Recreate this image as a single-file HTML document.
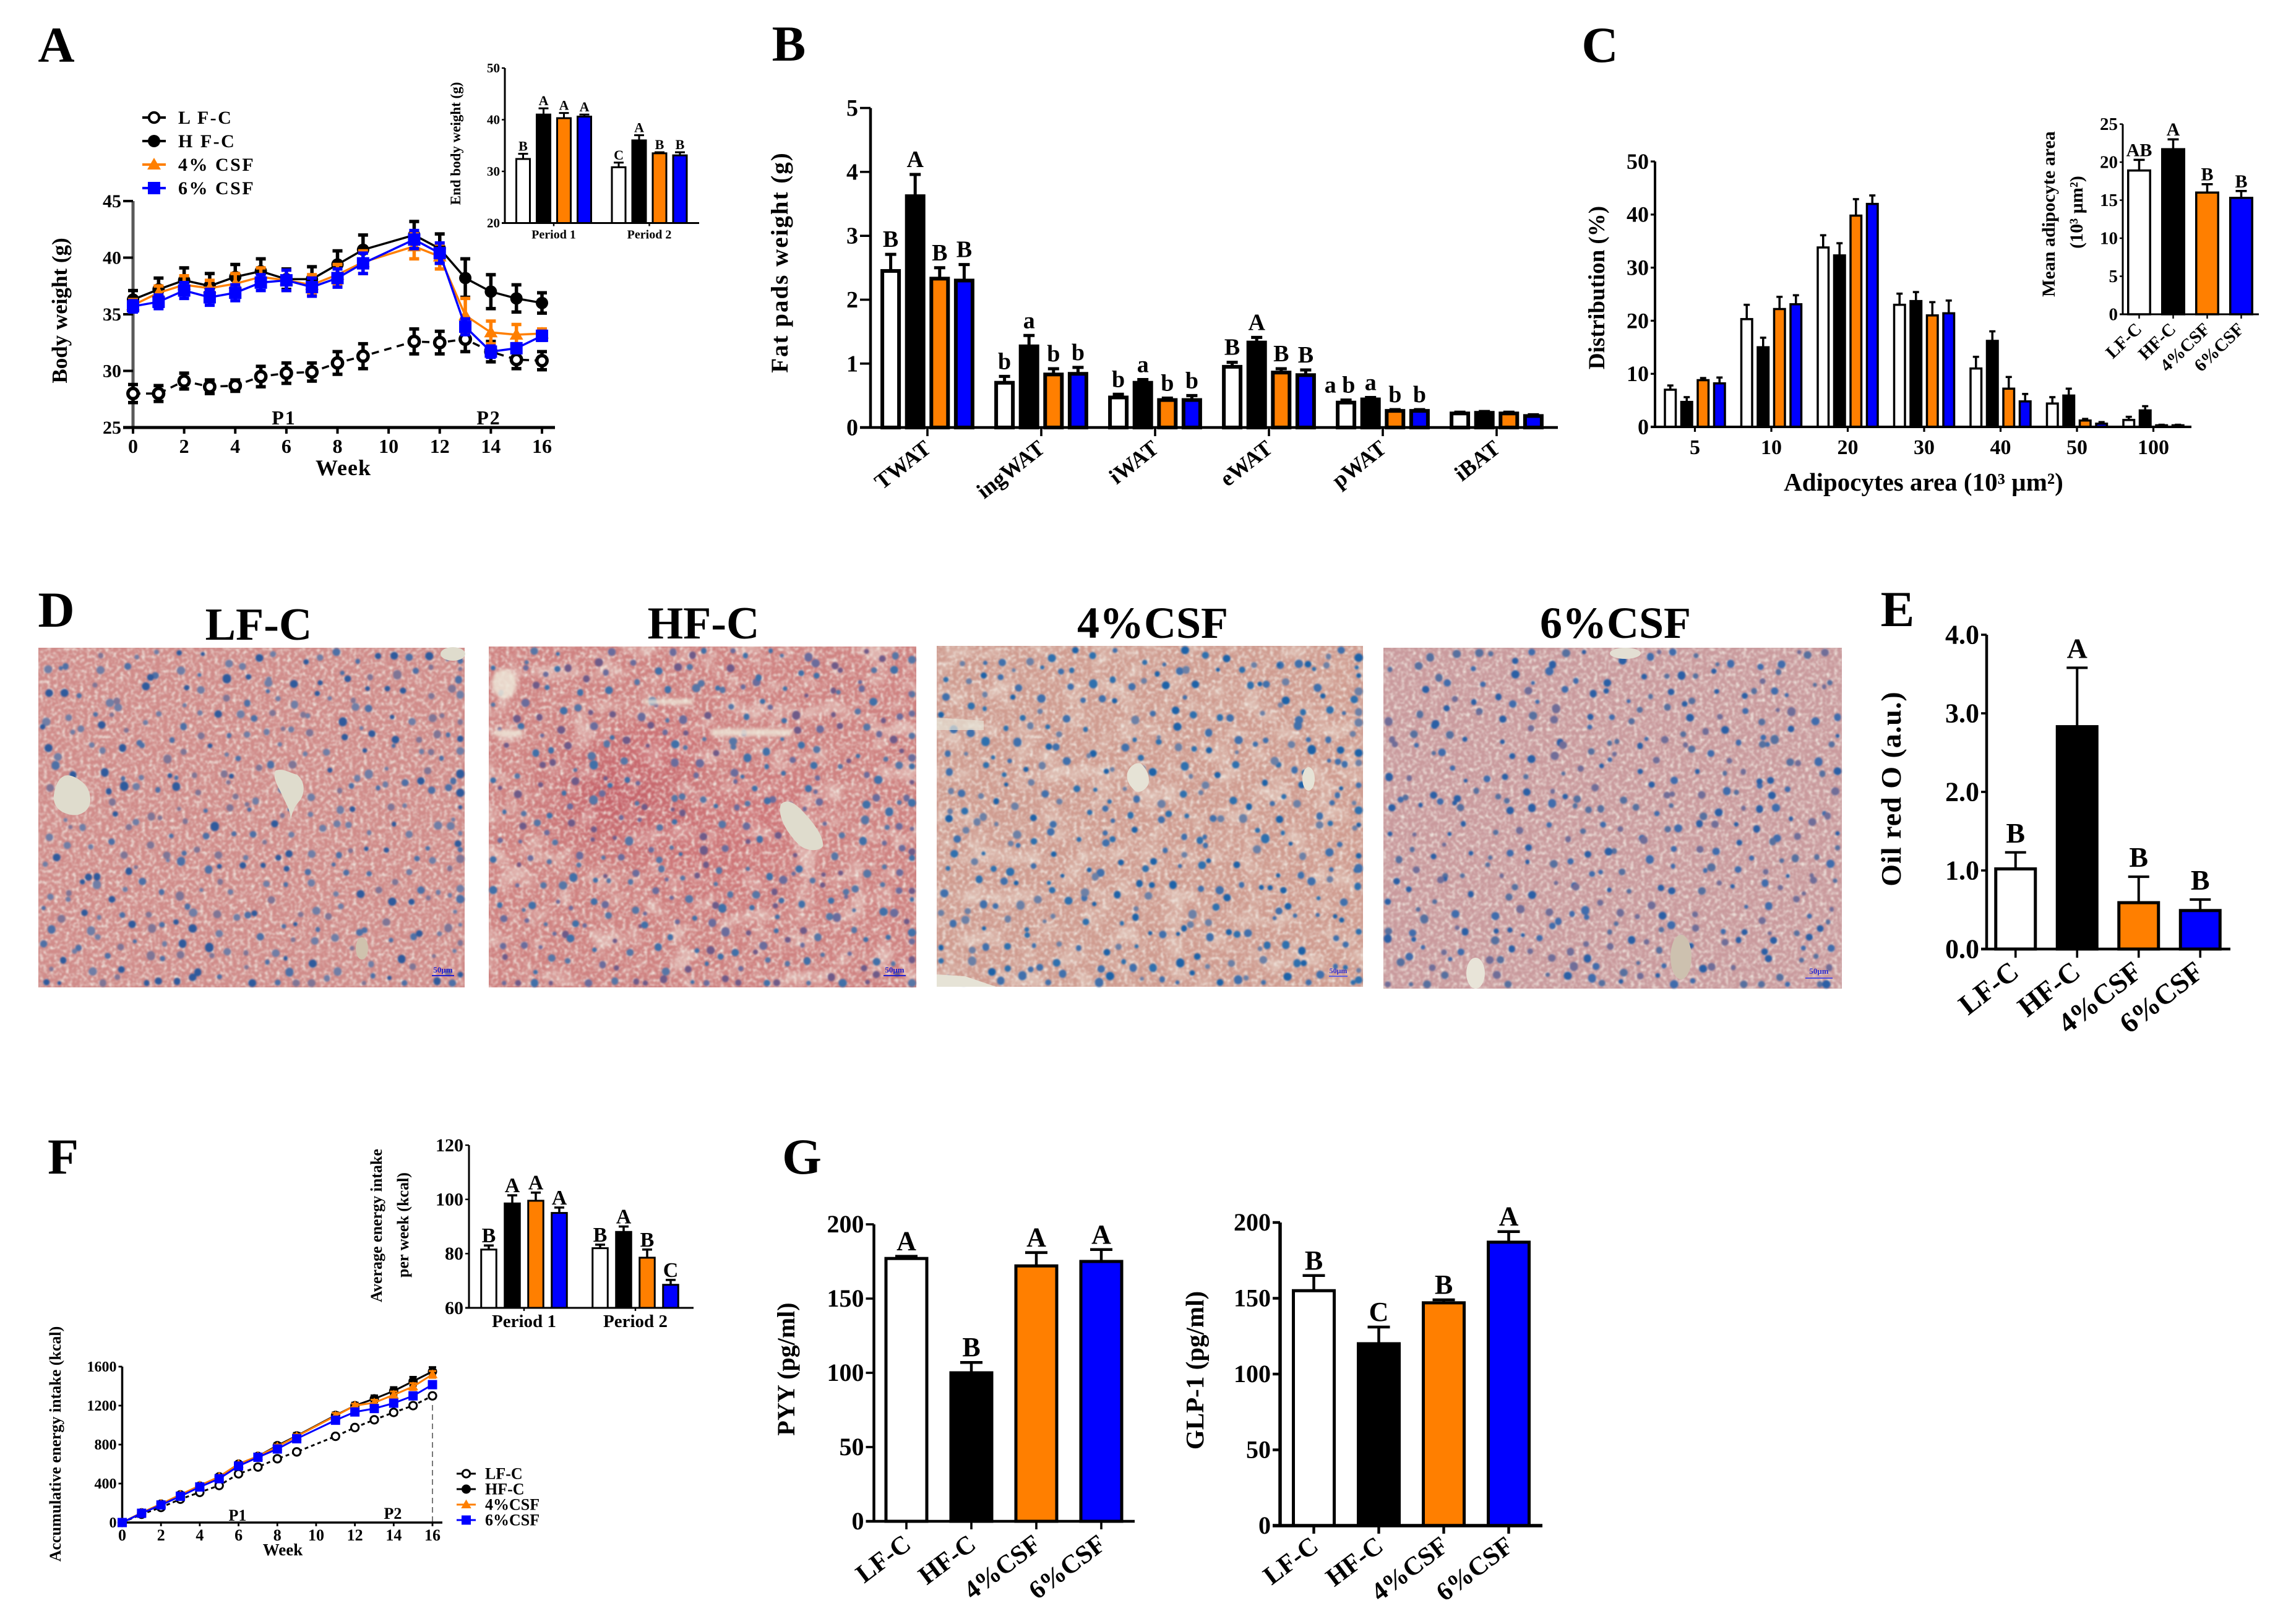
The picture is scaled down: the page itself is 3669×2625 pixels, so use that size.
<!DOCTYPE html>
<html lang="en">
<head>
<meta charset="utf-8">
<title>Body weight, fat pads, adipocytes, liver histology, energy intake and gut hormones</title>
<style>
html,body{margin:0;padding:0;background:#fff}
svg{display:block}
text{font-family:"Liberation Serif",serif;font-weight:700;fill:#000}
</style>
</head>
<body>
<svg id="figure" xmlns="http://www.w3.org/2000/svg" width="3669" height="2625" viewBox="0 0 3669 2625">
<defs>
<filter id="grain" x="0" y="0" width="100%" height="100%">
<feTurbulence type="fractalNoise" baseFrequency="0.17" numOctaves="2" seed="4"/>
<feColorMatrix values="0 0 0 0 0.88  0 0 0 0 0.82  0 0 0 0 0.76  2.4 0 0 0 -1.05"/>
<feGaussianBlur stdDeviation="1.1"/>
</filter>
<filter id="mottle" x="0" y="0" width="100%" height="100%">
<feTurbulence type="fractalNoise" baseFrequency="0.025 0.03" numOctaves="2" seed="11"/>
<feColorMatrix values="0 0 0 0 0.9  0 0 0 0 0.86  0 0 0 0 0.78  3.4 0 0 0 -1.7"/>
</filter>
<filter id="soft" x="-5%" y="-5%" width="110%" height="110%"><feGaussianBlur stdDeviation="1.2"/></filter>
<filter id="softer" x="-30%" y="-30%" width="160%" height="160%"><feGaussianBlur stdDeviation="3"/></filter>
<radialGradient id="redpatch"><stop offset="0" stop-color="#b8384a" stop-opacity=".5"/><stop offset="1" stop-color="#b8384a" stop-opacity="0"/></radialGradient>
<radialGradient id="softpatch"><stop offset="0" stop-color="#c9505c" stop-opacity=".3"/><stop offset="1" stop-color="#c9505c" stop-opacity="0"/></radialGradient>
</defs>
<rect width="3669" height="2625" fill="#fff"/>

<g id="panel-a">
<text x="91" y="100" font-size="82" text-anchor="middle">A</text>
<text transform="translate(108,502) rotate(-90)" font-size="35" text-anchor="middle">Body weight (g)</text>
<text x="555" y="768" font-size="36" text-anchor="middle" letter-spacing="1">Week</text>
<text x="459" y="686" font-size="32" text-anchor="middle" letter-spacing="2">P1</text>
<text x="790" y="686" font-size="32" text-anchor="middle" letter-spacing="2">P2</text>
<text transform="translate(744,232) rotate(-90)" font-size="23" text-anchor="middle">End body weight (g)</text>
</g>

<g id="panel-b">
<text x="1275" y="98" font-size="82" text-anchor="middle">B</text>
<text transform="translate(1273,424) rotate(-90)" font-size="39" letter-spacing="2" text-anchor="middle">Fat pads weight (g)</text>
</g>

<g id="panel-c">
<text x="2586" y="100" font-size="82" text-anchor="middle">C</text>
<text transform="translate(2593,465) rotate(-90)" font-size="37" text-anchor="middle">Distribution (%)</text>
<text x="3109" y="793" font-size="41" text-anchor="middle">Adipocytes area (10³ µm²)</text>
<text transform="translate(3321,346) rotate(-90)" font-size="30" text-anchor="middle">Mean adipocyte area</text>
<text transform="translate(3366,343) rotate(-90)" font-size="30" text-anchor="middle">(10³ µm²)</text>
</g>

<g id="panel-d">
<text x="91" y="1013" font-size="82" text-anchor="middle">D</text>
<text x="418" y="1034" font-size="74" text-anchor="middle">LF-C</text>
<text x="1137" y="1032" font-size="74" text-anchor="middle">HF-C</text>
<text x="1863" y="1031" font-size="72" text-anchor="middle">4%CSF</text>
<text x="2611" y="1031" font-size="72" text-anchor="middle">6%CSF</text>

<g>
<rect x="62" y="1047" width="689" height="549" fill="#d08c8a"/>
<rect x="62" y="1047" width="689" height="549" filter="url(#grain)"/>
<g id="nuclei-1" filter="url(#soft)"></g>
<path d="M87 1285C92 1255 105 1250 118 1255C135 1262 147 1275 146 1295C145 1310 130 1320 115 1317C97 1314 85 1303 87 1285Z" fill="#dfdccd"/>
<path d="M445 1246C455 1240 470 1250 480 1252C492 1262 494 1278 486 1292C480 1300 474 1305 470 1325C468 1305 462 1300 456 1285C450 1272 440 1258 445 1246Z" fill="#dfdccd"/>
<ellipse cx="732" cy="1057" rx="20" ry="11" fill="#dfdccd"/>
<ellipse cx="585" cy="1533" rx="10" ry="18" fill="#cfc2ad"/>
<rect x="698" y="1576" width="36" height="2" fill="#2020d0"/>
<text x="716" y="1572" font-size="13" text-anchor="middle" style="fill:#2020d0">50μm</text>
</g>

<g>
<rect x="790" y="1045" width="691" height="551" fill="#cf8382"/>
<rect x="790" y="1045" width="691" height="551" filter="url(#mottle)" opacity=".45"/>
<ellipse cx="1005" cy="1285" rx="170" ry="130" fill="url(#redpatch)"/>
<ellipse cx="1150" cy="1385" rx="170" ry="120" fill="url(#softpatch)"/>
<ellipse cx="1240" cy="1300" rx="130" ry="90" fill="url(#softpatch)"/>
<ellipse cx="1080" cy="1200" rx="120" ry="70" fill="url(#softpatch)"/>
<rect x="790" y="1045" width="691" height="551" filter="url(#grain)"/>
<g id="nuclei-2" filter="url(#soft)"></g>
<path d="M1262 1300C1272 1290 1285 1298 1298 1312C1315 1330 1332 1352 1330 1368C1322 1378 1300 1376 1288 1362C1272 1345 1256 1320 1262 1300Z" fill="#dfdccd"/>
<g filter="url(#softer)" fill="#eee6d8" opacity=".85">
<ellipse cx="815" cy="1105" rx="20" ry="24"/>
<rect x="1150" y="1178" width="130" height="12"/>
<rect x="1040" y="1130" width="80" height="9"/>
<rect x="800" y="1180" width="45" height="10"/>
</g>
<rect x="1428" y="1576" width="36" height="2" fill="#2020d0"/>
<text x="1446" y="1572" font-size="13" text-anchor="middle" style="fill:#2020d0">50μm</text>
</g>

<g>
<rect x="1514" y="1044" width="689" height="551" fill="#cf9c90"/>
<rect x="1514" y="1044" width="689" height="551" filter="url(#mottle)" opacity=".4"/>
<rect x="1514" y="1044" width="689" height="551" filter="url(#grain)"/>
<g id="nuclei-3" filter="url(#soft)"></g>
<path d="M1822 1250C1825 1238 1838 1230 1845 1235C1855 1245 1860 1258 1855 1270C1848 1280 1840 1282 1834 1278C1826 1270 1820 1262 1822 1250Z" fill="#e6e3d6"/>
<ellipse cx="2115" cy="1259" rx="10" ry="19" fill="#e6e3d6"/>
<path d="M1514 1575L1560 1578L1610 1595L1514 1595Z" fill="#e6e3d6"/>
<path d="M1514 1160L1590 1165L1590 1180L1514 1180Z" fill="#e6e3d6" opacity=".7"/>
<rect x="2148" y="1577" width="30" height="2" fill="#6060e0"/>
<text x="2163" y="1573" font-size="12" text-anchor="middle" style="fill:#3030d0">50μm</text>
</g>

<g>
<rect x="2236" y="1047" width="741" height="551" fill="#c99a9d"/>
<rect x="2236" y="1047" width="741" height="551" filter="url(#grain)"/>
<g id="nuclei-4" filter="url(#soft)"></g>
<ellipse cx="2627" cy="1056" rx="25" ry="9" fill="#e3dfd3"/>
<ellipse cx="2717" cy="1547" rx="17" ry="36" fill="#cdc1af"/>
<ellipse cx="2385" cy="1573" rx="15" ry="25" fill="#e8e4d8"/>
<rect x="2918" y="1580" width="44" height="2" fill="#5050e0"/>
<text x="2940" y="1574" font-size="13" text-anchor="middle" style="fill:#3030d0">50μm</text>
</g>
</g>

<g id="panel-e">
<text x="3067" y="1012" font-size="82" text-anchor="middle">E</text>
<text transform="translate(3072,1275) rotate(-90)" font-size="46" letter-spacing="1" text-anchor="middle">Oil red O (a.u.)</text>
</g>

<g id="panel-f">
<text x="102" y="1897" font-size="82" text-anchor="middle">F</text>
<text transform="translate(617,1981) rotate(-90)" font-size="26" text-anchor="middle">Average energy intake</text>
<text transform="translate(660,1980) rotate(-90)" font-size="26" text-anchor="middle">per week (kcal)</text>
<text transform="translate(98,2334) rotate(-90)" font-size="26" text-anchor="middle">Accumulative energy intake (kcal)</text>
<text x="457" y="2514" font-size="27" text-anchor="middle">Week</text>
<text x="384" y="2458" font-size="26" text-anchor="middle">P1</text>
<text x="635" y="2455" font-size="26" text-anchor="middle">P2</text>
<line x1="699" y1="2271" x2="699" y2="2461" stroke="#777" stroke-width="2" stroke-dasharray="9 6"/>
</g>

<g id="panel-g">
<text x="1296" y="1897" font-size="82" text-anchor="middle">G</text>
<text transform="translate(1284,2213) rotate(-90)" font-size="40" text-anchor="middle">PYY (pg/ml)</text>
<text transform="translate(1945,2215) rotate(-90)" font-size="41" text-anchor="middle">GLP-1 (pg/ml)</text>
</g>

<script>
// ---------- categories shared by all panels ----------
const groupKeys = ['lf-c', 'hf-c', 'csf4', 'csf6'];
const treatmentLabels = ['LF-C', 'HF-C', '4%CSF', '6%CSF'];
const treatmentLegendSpaced = ['L F-C', 'H F-C', '4% CSF', '6% CSF'];

// ---------- panel A, body weight over time ----------
const bodyWeeks = [0, 1, 2, 3, 4, 5, 6, 7, 8, 9, 11, 12, 13, 14, 15, 16];
const bodyLf = [28.0, 28.0, 29.1, 28.6, 28.7, 29.5, 29.8, 29.9, 30.7, 31.3, 32.6, 32.5, 32.8, 31.7, 31.0, 30.9];
const bodyLfErr = [0.8, 0.7, 0.7, 0.6, 0.5, 0.9, 0.9, 0.8, 1.0, 1.1, 1.1, 1.0, 1.1, 0.9, 0.8, 0.8];
const bodyHf = [36.3, 37.2, 38.0, 37.5, 38.3, 38.8, 38.1, 38.1, 39.4, 40.7, 42.0, 40.8, 38.2, 37.0, 36.4, 36.0];
const bodyHfErr = [0.8, 1.0, 1.1, 1.1, 1.1, 1.1, 0.9, 1.1, 1.2, 1.3, 1.2, 1.3, 1.7, 1.5, 1.2, 0.9];
const bodyCsf4 = [35.8, 36.9, 37.6, 37.3, 37.7, 38.3, 38.0, 37.6, 38.5, 39.6, 41.0, 40.1, 34.9, 33.4, 33.2, 33.3];
const bodyCsf4Err = [0.5, 0.6, 0.8, 0.7, 0.9, 0.8, 0.9, 0.9, 0.9, 1.0, 1.1, 1.1, 1.5, 1.0, 0.9, 0.4];
const bodyCsf6 = [35.7, 36.1, 37.1, 36.5, 36.9, 37.8, 38.0, 37.4, 38.2, 39.5, 41.6, 40.4, 33.9, 31.7, 32.0, 33.1];
const bodyCsf6Err = [0.5, 0.6, 0.7, 0.7, 0.7, 0.7, 0.9, 0.8, 0.8, 0.9, 0.8, 0.9, 0.7, 0.5, 0.4, 0.4];
const bodyYTicks = [25, 30, 35, 40, 45];
const weekTicks = [0, 2, 4, 6, 8, 10, 12, 14, 16];

// panel A inset, end body weight
const endPeriods = ['Period 1', 'Period 2'];
const endValues = [[32.4, 41, 40.3, 40.6], [30.8, 36, 33.5, 33.1]];
const endErrors = [[1, 1.2, 1, 0.4], [0.9, 1, 0.2, 0.6]];
const endLetters = [['B', 'A', 'A', 'A'], ['C', 'A', 'B', 'B']];
const endTicks = [20, 30, 40, 50];

// ---------- panel B, fat pads ----------
const padNames = ['TWAT', 'ingWAT', 'iWAT', 'eWAT', 'pWAT', 'iBAT'];
const padValues = [[2.45, 3.62, 2.33, 2.3], [0.7, 1.27, 0.83, 0.84], [0.47, 0.7, 0.43, 0.43], [0.95, 1.33, 0.86, 0.82], [0.39, 0.44, 0.26, 0.26], [0.22, 0.23, 0.22, 0.18]];
const padErrors = [[0.26, 0.34, 0.17, 0.25], [0.1, 0.17, 0.09, 0.1], [0.05, 0.05, 0.03, 0.07], [0.07, 0.08, 0.06, 0.08], [0.04, 0.03, 0.02, 0.02], [0.02, 0.02, 0.02, 0.02]];
const padLetters = [['B', 'A', 'B', 'B'], ['b', 'a', 'b', 'b'], ['b', 'a', 'b', 'b'], ['B', 'A', 'B', 'B'], ['a b', 'a', 'b', 'b'], ['', '', '', '']];
const padTicks = [0, 1, 2, 3, 4, 5];

// ---------- panel C, adipocyte distribution ----------
const areaNames = ['5', '10', '20', '30', '40', '50', '100'];
const areaValues = [[7, 4.7, 8.8, 8.2], [20.3, 15, 22.2, 23.1], [33.8, 32.3, 39.8, 42], [23, 23.7, 21, 21.4], [11, 16.2, 7.2, 4.8], [4.4, 5.9, 1.2, 0.6], [1.3, 3.1, 0.3, 0.3]];
const areaErrors = [[0.8, 0.9, 0.4, 1.1], [2.7, 1.8, 2.3, 1.7], [2.3, 2.3, 3.1, 1.6], [2.1, 1.7, 2.5, 2.4], [2.2, 1.8, 2.2, 1.4], [1.2, 1.3, 0.3, 0.3], [0.6, 0.8, 0.1, 0.1]];
const areaLetters = [['', '', '', ''], ['', '', '', ''], ['', '', '', ''], ['', '', '', ''], ['', '', '', ''], ['', '', '', ''], ['', '', '', '']];
const areaTicks = [0, 10, 20, 30, 40, 50];

const meanValues = [[18.9, 21.7, 16, 15.3]];
const meanErrors = [[1.4, 1.3, 1.1, 0.9]];
const meanLetters = [['AB', 'A', 'B', 'B']];
const meanTicks = [0, 5, 10, 15, 20, 25];

// ---------- panel E, oil red O ----------
const oilValues = [[1.02, 2.83, 0.59, 0.49]];
const oilErrors = [[0.21, 0.75, 0.33, 0.14]];
const oilLetters = [['B', 'A', 'B', 'B']];
const oilTicks = ['0.0', '1.0', '2.0', '3.0', '4.0'];

// ---------- panel F, energy intake ----------
const intakePeriods = ['Period 1', 'Period 2'];
const intakeValues = [[81.5, 98.5, 99.5, 95], [82, 88, 78.5, 68.5]];
const intakeErrors = [[1.5, 3, 3, 2], [1.3, 2, 3, 1.8]];
const intakeLetters = [['B', 'A', 'A', 'A'], ['B', 'A', 'B', 'C']];
const intakeTicks = [60, 80, 100, 120];

const accLf = [0, 85, 155, 240, 310, 380, 500, 570, 655, 725, 885, 975, 1055, 1130, 1200, 1300];
const accLfErr = [0, 8, 10, 12, 12, 12, 15, 15, 15, 15, 15, 20, 20, 25, 25, 25];
const accHf = [0, 100, 190, 285, 375, 470, 600, 680, 790, 890, 1100, 1200, 1270, 1350, 1450, 1550];
const accHfErr = [0, 10, 15, 15, 15, 20, 20, 20, 25, 30, 30, 30, 35, 40, 45, 45];
const accCsf4 = [0, 100, 190, 285, 380, 470, 600, 680, 780, 885, 1095, 1200, 1230, 1310, 1395, 1520];
const accCsf4Err = [0, 8, 10, 12, 12, 15, 15, 15, 20, 20, 30, 20, 30, 35, 35, 35];
const accCsf6 = [0, 95, 180, 270, 365, 450, 580, 670, 755, 860, 1050, 1135, 1170, 1225, 1300, 1415];
const accCsf6Err = [0, 8, 10, 12, 12, 12, 15, 15, 15, 15, 15, 15, 15, 15, 15, 15];
const accTicks = [0, 400, 800, 1200, 1600];

// ---------- panel G, gut hormones ----------
const pyyValues = [[177, 100, 172, 175]];
const pyyErrors = [[1.5, 7, 9, 8]];
const pyyLetters = [['A', 'B', 'A', 'A']];
const glpValues = [[155, 120, 147, 187]];
const glpErrors = [[10, 11, 2, 7]];
const glpLetters = [['B', 'C', 'B', 'A']];
const hormoneTicks = [0, 50, 100, 150, 200];

// ---------- drawing styles ----------
const barFills = ['#ffffff', '#000000', '#ff7f00', '#0000ff'];
const seriesStroke = ['#000000', '#000000', '#ff7f00', '#0000ff'];
const seriesMarker = ['open', 'disc', 'triangle', 'square'];

const NS = 'http://www.w3.org/2000/svg';
function mk(tag, attrs, parent) {
  const n = document.createElementNS(NS, tag);
  for (const k in attrs) n.setAttribute(k, attrs[k]);
  parent.appendChild(n);
  return n;
}
function txt(parent, x, y, s, size, anchor, rot) {
  const t = mk('text', {
    transform: 'translate(' + x + ',' + y + ')' + (rot ? ' rotate(' + rot + ')' : ''),
    'font-size': size,
    'text-anchor': anchor || 'middle'
  }, parent);
  t.textContent = s;
  return t;
}
function yOf(L, v) {
  return L.y0 - (v - L.vMin) / (L.vMax - L.vMin) * (L.y0 - L.yTop);
}
function xOf(L, w) {
  return L.x - 0 + (w - 0) / 16 * (L.x16 - L.x);
}

function drawYAxis(panel, prefix, L, ticks) {
  const axis = mk('line', { x1: L.x, y1: L.yTop, x2: L.x, y2: L.y0, stroke: L.yAxisColor || '#000', 'stroke-width': L.axisW }, panel);
  
  
  const base = mk('line', { x1: L.x - L.tickLen, y1: L.y0, x2: L.xEnd, y2: L.y0, stroke: '#000', 'stroke-width': L.axisW }, panel);
  
  
  ticks.forEach(function (t) {
    const y = yOf(L, Number(t));
    const tm = mk('line', { x1: L.x - L.tickLen, y1: y, x2: L.x, y2: y, stroke: '#000', 'stroke-width': L.axisW * 0.8 }, panel);
    
    
    const lb = txt(panel, L.x - L.tickLen - 3, y + L.tickFs * 0.33, String(t), L.tickFs, 'end');
    
    
  });
}

function drawBarChart(panel, prefix, L, cats, values, errors, letters, ticks) {
  values.forEach(function (row, g) {
    const gc = L.first + g * (L.groupStep || 0);
    row.forEach(function (v, b) {
      const cx = gc + (b - 1.5) * L.barStep;
      const top = yOf(L, v);
      const errTop = yOf(L, v + errors[g][b]);
      const er = mk('line', { x1: cx, y1: top, x2: cx, y2: errTop, stroke: '#000', 'stroke-width': L.errW }, panel);
      
      
      const cp = mk('line', { x1: cx - L.capW, y1: errTop, x2: cx + L.capW, y2: errTop, stroke: '#000', 'stroke-width': L.errW }, panel);
      
      
      const bar = mk('rect', {
        x: cx - L.barW / 2 + L.barSw / 2, y: top,
        width: L.barW - L.barSw, height: Math.max(0, L.y0 - top),
        fill: barFills[b], stroke: '#000', 'stroke-width': L.barSw
      }, panel);
      
      
      if (letters[g][b]) {
        const ofs = letters[g][b].length > 2 ? -10 : 0;
        const lt = txt(panel, cx + ofs, errTop - L.letterGap, letters[g][b], L.letterFs, 'middle');
        
        
      }
      if (L.perBar) {
        const tk = mk('line', { x1: cx, y1: L.y0, x2: cx, y2: L.y0 + L.xTick, stroke: '#000', 'stroke-width': L.axisW * 0.8 }, panel);
        
        
        const cl = txt(panel, cx + L.catDx, L.y0 + L.catDy, cats[b], L.catFs, 'end', L.catRot);
        
        
      }
    });
    if (!L.perBar) {
      const tk = mk('line', { x1: gc, y1: L.y0, x2: gc, y2: L.y0 + L.xTick, stroke: '#000', 'stroke-width': L.axisW * 0.8 }, panel);
      
      
      const cl = L.catRot
        ? txt(panel, gc + L.catDx, L.y0 + L.catDy, cats[g], L.catFs, 'end', L.catRot)
        : txt(panel, gc + L.catDx, L.y0 + L.catDy, cats[g], L.catFs, 'middle');
      
      
    }
  });
  drawYAxis(panel, prefix, L, ticks);
}

function drawMarker(parent, prefix, kind, stroke, cx, cy, s, sw) {
  let m;
  if (kind === 'open') {
    m = mk('circle', { cx: cx, cy: cy, r: s * 0.82, fill: '#fff', stroke: '#000', 'stroke-width': sw }, parent);
  } else if (kind === 'disc') {
    m = mk('circle', { cx: cx, cy: cy, r: s, fill: '#000' }, parent);
  } else if (kind === 'triangle') {
    m = mk('path', { d: 'M' + cx + ' ' + (cy - s * 1.1) + 'L' + (cx + s * 1.1) + ' ' + (cy + s * 0.8) + 'L' + (cx - s * 1.1) + ' ' + (cy + s * 0.8) + 'Z', fill: stroke }, parent);
  } else {
    m = mk('rect', { x: cx - s, y: cy - s, width: s * 2, height: s * 2, fill: stroke }, parent);
  }
  
  
}

function drawLineChart(panel, prefix, L, weeks, values, errors, ticks) {
  drawYAxis(panel, prefix, L, ticks);
  weekTicks.forEach(function (w) {
    const x = xOf(L, w);
    const tk = mk('line', { x1: x, y1: L.y0, x2: x, y2: L.y0 + L.xTick, stroke: '#000', 'stroke-width': L.axisW * 0.8 }, panel);
    
    
    const lb = txt(panel, x, L.y0 + L.xLabelDy, String(w), L.xFs, 'middle');
    
    
  });
  values.forEach(function (series, s) {
    const g = mk('g', {}, panel);
    
    
    const d = series.map(function (v, i) {
      return (i ? 'L' : 'M') + xOf(L, weeks[i]) + ' ' + yOf(L, v);
    }).join('');
    const attrs = { d: d, fill: 'none', stroke: seriesStroke[s], 'stroke-width': L.lineW };
    if (s === 0) attrs['stroke-dasharray'] = L.dash;
    const ln = mk('path', attrs, g);
    
    
    series.forEach(function (v, i) {
      const x = xOf(L, weeks[i]);
      const hi = yOf(L, v + errors[s][i]);
      const lo = yOf(L, v - errors[s][i]);
      const er = mk('path', {
        d: 'M' + x + ' ' + lo + 'L' + x + ' ' + hi + 'M' + (x - L.capW) + ' ' + hi + 'L' + (x + L.capW) + ' ' + hi + 'M' + (x - L.capW) + ' ' + lo + 'L' + (x + L.capW) + ' ' + lo,
        fill: 'none', stroke: seriesStroke[s], 'stroke-width': L.errW
      }, g);
      
      
      drawMarker(g, prefix, seriesMarker[s], seriesStroke[s], x, yOf(L, v), L.markerR, L.errW);
    });
  });
}

function drawLegend(panel, prefix, L, names) {
  names.forEach(function (name, s) {
    const y = L.y + s * L.step;
    const entry = mk('g', {}, panel);
    
    
    const attrs = { x1: L.x1, y1: y, x2: L.x2, y2: y, stroke: seriesStroke[s], 'stroke-width': L.lineW };
    const ln = mk('line', attrs, entry);
    
    
    drawMarker(entry, prefix + '-legend', seriesMarker[s], seriesStroke[s], (L.x1 + L.x2) / 2, y, L.r, L.lineW);
    const t = txt(entry, L.tx, y + L.fs * 0.33, name, L.fs, 'start');
    t.setAttribute('letter-spacing', L.spacing);
    
    
  });
}

// ---------- layouts ----------
const panelA = document.getElementById('panel-a');
const panelB = document.getElementById('panel-b');
const panelC = document.getElementById('panel-c');
const panelE = document.getElementById('panel-e');
const panelF = document.getElementById('panel-f');
const panelG = document.getElementById('panel-g');

drawLineChart(panelA, 'body-weight', {
  x: 215, x16: 876, y0: 691, yTop: 325, vMin: 25, vMax: 45, xEnd: 897,
  axisW: 5, tickLen: 16, tickFs: 30, yAxisColor: '#5a5a5a', xTick: 10, xLabelDy: 41, xFs: 32,
  lineW: 3.5, dash: '12 9', capW: 8, errW: 5.5, markerR: 10
}, bodyWeeks, [bodyLf, bodyHf, bodyCsf4, bodyCsf6], [bodyLfErr, bodyHfErr, bodyCsf4Err, bodyCsf6Err], bodyYTicks);

drawLegend(panelA, 'body-weight', { x1: 230, x2: 268, y: 190, step: 38, tx: 288, fs: 30, r: 10, lineW: 4, spacing: 2.5 }, treatmentLegendSpaced);

drawBarChart(panelA, 'end-weight', {
  x: 816, y0: 360.5, yTop: 110, vMin: 20, vMax: 50, xEnd: 1130, axisW: 3, tickLen: 5, tickFs: 21,
  first: 895, groupStep: 154.5, barStep: 33, barW: 25, barSw: 3, errW: 3, capW: 8, xTick: 5,
  letterGap: 5, letterFs: 22, catDx: 0, catDy: 25, catFs: 20
}, endPeriods, endValues, endErrors, endLetters, endTicks);

drawBarChart(panelB, 'fat-pads', {
  x: 1407, y0: 691, yTop: 174.6, vMin: 0, vMax: 5, xEnd: 2518, axisW: 4.5, tickLen: 17, tickFs: 38,
  first: 1499, groupStep: 184, barStep: 39.6, barW: 33, barSw: 6, errW: 5, capW: 9, xTick: 14,
  letterGap: 12, letterFs: 38, catDx: 8, catDy: 38, catFs: 36, catRot: -38
}, padNames, padValues, padErrors, padLetters, padTicks);

drawBarChart(panelC, 'distribution', {
  x: 2675, y0: 690, yTop: 261, vMin: 0, vMax: 50, xEnd: 3542, axisW: 4, tickLen: 7, tickFs: 36,
  first: 2739.5, groupStep: 123.5, barStep: 26.5, barW: 21, barSw: 3.5, errW: 3.5, capW: 5, xTick: 8,
  letterGap: 0, letterFs: 20, catDx: 0, catDy: 44, catFs: 34
}, areaNames, areaValues, areaErrors, areaLetters, areaTicks);

drawBarChart(panelC, 'mean-area', {
  x: 3431, y0: 508, yTop: 200.6, vMin: 0, vMax: 25, xEnd: 3651, axisW: 3, tickLen: 5, tickFs: 29,
  first: 3540, barStep: 55, barW: 39, barSw: 3.5, errW: 3.5, capW: 9, xTick: 7, perBar: true,
  letterGap: 6, letterFs: 30, catDx: 6, catDy: 26, catFs: 29, catRot: -44
}, treatmentLabels, meanValues, meanErrors, meanLetters, meanTicks);

drawBarChart(panelE, 'oil-red', {
  x: 3211, y0: 1534, yTop: 1026, vMin: 0, vMax: 4, xEnd: 3605, axisW: 4.5, tickLen: 9, tickFs: 44,
  first: 3407, barStep: 99.5, barW: 69, barSw: 5, errW: 4, capW: 17, xTick: 14, perBar: true,
  letterGap: 16, letterFs: 46, catDx: 8, catDy: 42, catFs: 46, catRot: -38
}, treatmentLabels, oilValues, oilErrors, oilLetters, oilTicks);

drawBarChart(panelF, 'average-intake', {
  x: 758, y0: 2114, yTop: 1851, vMin: 60, vMax: 120, xEnd: 1121, axisW: 3, tickLen: 6, tickFs: 30,
  first: 847, groupStep: 180, barStep: 38, barW: 27.5, barSw: 3, errW: 3.5, capW: 8, xTick: 5,
  letterGap: 5, letterFs: 34, catDx: 0, catDy: 31, catFs: 29
}, intakePeriods, intakeValues, intakeErrors, intakeLetters, intakeTicks);

drawLineChart(panelF, 'accumulative-intake', {
  x: 197.5, x16: 699, y0: 2461, yTop: 2209, vMin: 0, vMax: 1600, xEnd: 715, axisW: 3.5, tickLen: 6, tickFs: 24,
  xTick: 6, xLabelDy: 29, xFs: 26, lineW: 3, dash: '6 5', capW: 6, errW: 3, markerR: 7.5
}, bodyWeeks, [accLf, accHf, accCsf4, accCsf6], [accLfErr, accHfErr, accCsf4Err, accCsf6Err], accTicks);

drawLegend(panelF, 'accumulative-intake', { x1: 738, x2: 769, y: 2382, step: 25, tx: 784, fs: 26, r: 7.5, lineW: 3, spacing: 0 }, treatmentLabels);

drawBarChart(panelG, 'pyy', {
  x: 1412.5, y0: 2459, yTop: 1979, vMin: 0, vMax: 200, xEnd: 1834, axisW: 4.5, tickLen: 13, tickFs: 40,
  first: 1622.5, barStep: 105, barW: 71, barSw: 5, errW: 4.5, capW: 18, xTick: 13, perBar: true,
  letterGap: 10, letterFs: 44, catDx: 10, catDy: 42, catFs: 42, catRot: -37
}, treatmentLabels, pyyValues, pyyErrors, pyyLetters, hormoneTicks);

drawBarChart(panelG, 'glp1', {
  x: 2069, y0: 2466, yTop: 1976, vMin: 0, vMax: 200, xEnd: 2493, axisW: 5.5, tickLen: 12, tickFs: 40,
  first: 2281, barStep: 105, barW: 71, barSw: 5, errW: 4.5, capW: 18, xTick: 13, perBar: true,
  letterGap: 10, letterFs: 44, catDx: 10, catDy: 38, catFs: 42, catRot: -37
}, treatmentLabels, glpValues, glpErrors, glpLetters, hormoneTicks);

// ---------- decorative histology nuclei (micrograph texture, not chart data) ----------
function paintNuclei(id, x, y, w, h, seed, cols) {
  let s = seed;
  function rnd() { s = (s * 16807) % 2147483647; return (s - 1) / 2147483646; }
  const host = document.getElementById(id);
  const paths = cols.map(function () { return ''; });
  const gridStep = 31;
  for (let gy = 0; gy < h / gridStep; gy++) {
    for (let gx = 0; gx < w / gridStep; gx++) {
      if (rnd() < 0.08) continue;
      const cx = Math.min(x + w - 7, Math.max(x + 7, x + gx * gridStep + rnd() * gridStep));
      const cy = Math.min(y + h - 7, Math.max(y + 7, y + gy * gridStep + rnd() * gridStep));
      const r = 3.2 + rnd() * 3.6;
      const k = Math.floor(rnd() * cols.length);
      paths[k] += 'M' + (cx - r).toFixed(1) + ' ' + cy.toFixed(1) + 'a' + r.toFixed(1) + ' ' + r.toFixed(1) + ' 0 1 0 ' + (2 * r).toFixed(1) + ' 0a' + r.toFixed(1) + ' ' + r.toFixed(1) + ' 0 1 0 ' + (-2 * r).toFixed(1) + ' 0';
    }
  }
  paths.forEach(function (d, k) {
    const p = mk('path', { d: d, fill: cols[k] }, host);
    
    
  });
}
paintNuclei('nuclei-1', 62, 1047, 689, 549, 1234, ['#4d6fa6', '#6f7ea6', '#2f5a9c', '#7f7595']);
paintNuclei('nuclei-2', 790, 1045, 691, 551, 4321, ['#5676a6', '#6a6c9c', '#6e5a88', '#3f6fa8']);
paintNuclei('nuclei-3', 1514, 1044, 689, 551, 7777, ['#2f6fae', '#3f70ac', '#1f62a8', '#6c80a6']);
paintNuclei('nuclei-4', 2236, 1047, 741, 551, 2468, ['#3f6cac', '#56709f', '#2a5fa5', '#6f6d98']);
</script>
</svg>
</body>
</html>
